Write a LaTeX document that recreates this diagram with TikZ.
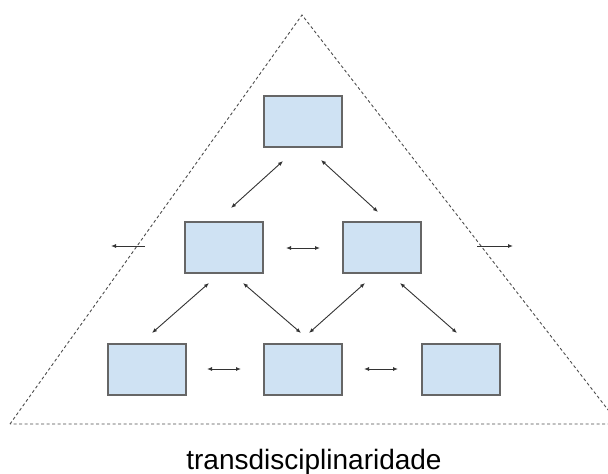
\documentclass[tikz,border=0pt]{standalone}
\usepackage{fontspec}
\setmainfont{Liberation Sans}
\usetikzlibrary{arrows.meta}
\definecolor{boxfill}{HTML}{CFE2F3}
\definecolor{boxline}{HTML}{666666}
\definecolor{arrowcol}{HTML}{333333}
\tikzset{
  discbox/.style={draw=boxline, line width=1.5pt, fill=boxfill, minimum width=78pt, minimum height=51pt, inner sep=0pt, anchor=north west},
  link/.style={draw=arrowcol, line width=0.9pt, {Latex[length=5pt,width=4pt]}-{Latex[length=5pt,width=4pt]}},
  outlink/.style={draw=arrowcol, line width=0.9pt, -{Latex[length=5pt,width=4pt]}},
  bound/.style={draw=black!70, line width=0.9pt, dash pattern=on 3pt off 2.5pt}
}
\begin{document}
\begin{tikzpicture}[x=1pt,y=-1pt]
\useasboundingbox (0,0) rectangle (608,474);
\clip (0,0) rectangle (608,474);
% triangle
\coordinate (apex) at (302,15);
\coordinate (bl) at (10,424);
\coordinate (br) at (619,424);
\draw[bound] (bl) -- (apex) -- (br) -- cycle;
% boxes
\node[discbox] (top) at (263,95) {};
\node[discbox] (ml) at (184,221) {};
\node[discbox] (mr) at (342,221) {};
\node[discbox] (bleft) at (107,343) {};
\node[discbox] (bmid) at (263,343) {};
\node[discbox] (bright) at (421,343) {};
% arrow endpoints
\coordinate (a1s) at (283,161); \coordinate (a1e) at (231,208);
\coordinate (a2s) at (321,160); \coordinate (a2e) at (378,212);
\coordinate (a3s) at (209,283); \coordinate (a3e) at (152,333);
\coordinate (a4s) at (243,283); \coordinate (a4e) at (301,333);
\coordinate (a5s) at (365,283); \coordinate (a5e) at (309,333);
\coordinate (a6s) at (400,283); \coordinate (a6e) at (457,333);
\coordinate (h1s) at (286,248); \coordinate (h1e) at (320,248);
\coordinate (h2s) at (207,369); \coordinate (h2e) at (241,369);
\coordinate (h3s) at (364,369); \coordinate (h3e) at (398,369);
\coordinate (ls) at (145,246); \coordinate (le) at (111,246);
\coordinate (rs) at (477,246); \coordinate (re) at (513,246);
\draw[link] (a1s) -- (a1e);
\draw[link] (a2s) -- (a2e);
\draw[link] (a3s) -- (a3e);
\draw[link] (a4s) -- (a4e);
\draw[link] (a5s) -- (a5e);
\draw[link] (a6s) -- (a6e);
\draw[link] (h1s) -- (h1e);
\draw[link] (h2s) -- (h2e);
\draw[link] (h3s) -- (h3e);
\draw[outlink] (ls) -- (le);
\draw[outlink] (rs) -- (re);
% label
\node[anchor=base, font=\fontsize{28}{32}\selectfont, inner sep=0pt] (lbl) at (314,469) {transdisciplinaridade};
\end{tikzpicture}
\end{document}
